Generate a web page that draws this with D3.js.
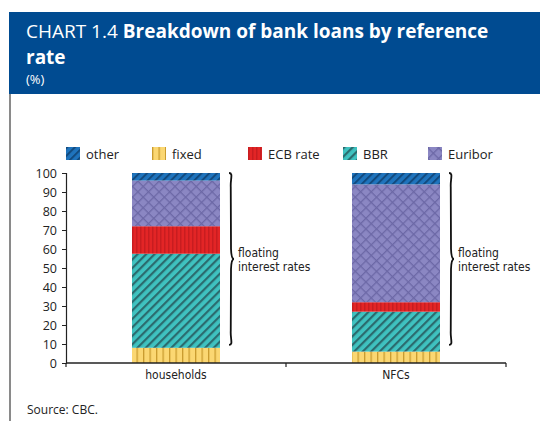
<!DOCTYPE html>
<html>
<head>
<meta charset="utf-8">
<script src="https://cdn.jsdelivr.net/npm/d3@7/dist/d3.min.js"></script>
<style>
  html, body { margin: 0; padding: 0; background: #fff; }
  svg { display: block; }
  .cond { font-family: "Liberation Sans Narrow", "Arial Narrow", "DejaVu Sans Condensed", sans-serif; }
</style>
</head>
<body>
<div id="chart"></div>
<script>
// Sectors on the x axis
const categories = ["households", "NFCs"];
// Reference-rate shares of each sector's loans (%), stacked bottom to top
const seriesNames = ["fixed", "BBR", "ECB rate", "Euribor", "other"];
const fixedVals   = [8, 6];
const bbrVals     = [49.5, 21];
const ecbVals     = [14.5, 5];
const euriborVals = [24, 62];
const otherVals   = [4, 6];
// Legend order as printed
const legendOrder = ["other", "fixed", "ECB rate", "BBR", "Euribor"];
const yTicks = [0, 10, 20, 30, 40, 50, 60, 70, 80, 90, 100];
// Span of the floating-rate brace (%)
const braceRange = [9.5, 100];

const W = 540, H = 421;
const svg = d3.select("#chart").append("svg").attr("width", W).attr("height", H);
const defs = svg.append("defs");

// Fill patterns
function stripePattern(id, bg, fg, size, width, angle) {
  const p = defs.append("pattern").attr("id", id).attr("patternUnits", "userSpaceOnUse")
    .attr("width", size).attr("height", size)
    .attr("patternTransform", `rotate(${angle})`);
  p.append("rect").attr("width", size).attr("height", size).attr("fill", bg);
  p.append("rect").attr("x", 0).attr("y", 0).attr("width", width).attr("height", size).attr("fill", fg);
}
stripePattern("p-other", "#1f74bd", "#124a7e", 5.5, 2, 45);
stripePattern("p-bbr", "#3fc2c0", "#2b6b6e", 6, 2.2, 45);
stripePattern("p-fixed", "#fbd772", "#c99b2e", 6.5, 1.3, 0);
stripePattern("p-ecb", "#e32526", "#c81d20", 4, 1.5, 0);
(function () {
  const s = 7.5;
  const p = defs.append("pattern").attr("id", "p-euribor").attr("patternUnits", "userSpaceOnUse")
    .attr("width", s).attr("height", s).attr("patternTransform", "rotate(45)");
  p.append("rect").attr("width", s).attr("height", s).attr("fill", "#8b87c3");
  p.append("rect").attr("x", 0).attr("y", 0).attr("width", 1.3).attr("height", s).attr("fill", "#6c68a6");
  p.append("rect").attr("x", 0).attr("y", 0).attr("width", s).attr("height", 1.3).attr("fill", "#6c68a6");
})();
const fillOf = {
  "fixed": "url(#p-fixed)", "BBR": "url(#p-bbr)", "ECB rate": "url(#p-ecb)",
  "Euribor": "url(#p-euribor)", "other": "url(#p-other)"
};

// Header band with the title block
svg.append("rect").attr("x", 9).attr("y", 12).attr("width", W - 9).attr("height", 82).attr("fill", "#004b91");
const titleFont = "'Open Sans', sans-serif";
const title = svg.append("text").attr("x", 26).attr("y", 38).attr("fill", "#fff")
  .style("font-family", titleFont).style("font-size", "19px");
title.append("tspan").text("CHART 1.4 ");
title.append("tspan").attr("font-weight", "bold").text("Breakdown of bank loans by reference");
svg.append("text").attr("x", 26).attr("y", 64).attr("fill", "#fff")
  .style("font-family", titleFont).style("font-size", "19px").attr("font-weight", "bold").text("rate");
svg.append("text").attr("x", 26).attr("y", 84).attr("fill", "#fff")
  .style("font-family", titleFont).style("font-size", "13px").text("(%)");

// Left frame rule
svg.append("line").attr("x1", 10).attr("x2", 10).attr("y1", 94).attr("y2", H)
  .attr("stroke", "#8a8a8a").attr("stroke-width", 2);

// Scales
const x = d3.scaleBand().domain(categories).range([66, 506]).paddingInner(0).paddingOuter(0);
const y = d3.scaleLinear().domain([0, 100]).range([363, 173]);
const barW = 88;

// Stacked data
const rows = categories.map((c, i) => ({
  cat: c, "fixed": fixedVals[i], "BBR": bbrVals[i], "ECB rate": ecbVals[i],
  "Euribor": euriborVals[i], "other": otherVals[i]
}));
const stacked = d3.stack().keys(seriesNames)(rows);

svg.append("g").selectAll("g").data(stacked).join("g")
  .attr("fill", d => fillOf[d.key])
  .selectAll("rect").data(d => d).join("rect")
  .attr("x", d => x(d.data.cat) + x.bandwidth() / 2 - barW / 2)
  .attr("width", barW)
  .attr("y", d => y(d[1]))
  .attr("height", d => y(d[0]) - y(d[1]));

// Y axis
const yAxis = svg.append("g").attr("transform", "translate(66,0)")
  .call(d3.axisLeft(y).tickValues(yTicks).tickSize(4).tickPadding(5));
yAxis.select(".domain").attr("stroke", "#222").attr("stroke-width", 1.2);
yAxis.selectAll(".tick line").attr("stroke", "#222");
yAxis.selectAll("text").style("font-family", "'Open Sans', sans-serif").style("font-size", "12.5px").attr("fill", "#222");

// X axis with ticks on band boundaries
const xAxisG = svg.append("g").attr("transform", "translate(0,363)");
xAxisG.append("line").attr("x1", 66).attr("x2", 506).attr("stroke", "#222").attr("stroke-width", 1.4);
const bounds = [x.range()[0]].concat(categories.map(c => x(c) + x.bandwidth()));
xAxisG.selectAll(".bt").data(bounds).join("line").attr("class", "bt")
  .attr("x1", d => d).attr("x2", d => d).attr("y1", 0).attr("y2", 4).attr("stroke", "#222").attr("stroke-width", 1.2);
xAxisG.selectAll(".xl").data(categories).join("text").attr("class", "xl cond")
  .attr("x", d => x(d) + x.bandwidth() / 2).attr("y", 16).attr("text-anchor", "middle")
  .style("font-size", "12px").attr("fill", "#222").text(d => d);

// Braces marking the floating-rate portion
function bracePath(x0, y0, y1, w) {
  const ym = (y0 + y1) / 2;
  return `M${x0},${y0} C${x0 + w * 0.9},${y0} ${x0 + w * 0.25},${y0 + 6} ${x0 + w * 0.35},${y0 + 14}
          L${x0 + w * 0.4},${ym - 10} C${x0 + w * 0.45},${ym - 3} ${x0 + w * 0.7},${ym} ${x0 + w},${ym}
          C${x0 + w * 0.7},${ym} ${x0 + w * 0.45},${ym + 3} ${x0 + w * 0.4},${ym + 10}
          L${x0 + w * 0.35},${y1 - 14} C${x0 + w * 0.25},${y1 - 6} ${x0 + w * 0.9},${y1} ${x0},${y1}`;
}
categories.forEach(c => {
  const bx = x(c) + x.bandwidth() / 2 + barW / 2 + 9;
  svg.append("path").attr("d", bracePath(bx, y(braceRange[1]), y(braceRange[0]), 5))
    .attr("fill", "none").attr("stroke", "#111").attr("stroke-width", 1.8);
  const t = svg.append("text").attr("class", "cond").attr("x", bx + 9).attr("y", 257)
    .style("font-size", "12px").attr("fill", "#222");
  t.append("tspan").attr("x", bx + 9).text("floating");
  t.append("tspan").attr("x", bx + 9).attr("dy", 14).text("interest rates");
});

// Legend
const legendX = { "other": 66, "fixed": 152, "ECB rate": 248, "BBR": 343, "Euribor": 428 };
const lg = svg.append("g").selectAll("g").data(legendOrder).join("g")
  .attr("transform", d => `translate(${legendX[d]},147)`);
lg.append("rect").attr("width", 14).attr("height", 13).attr("fill", d => fillOf[d]);
lg.append("text").attr("x", 20).attr("y", 11.5)
  .style("font-family", "'Open Sans', sans-serif").style("font-size", "13px").attr("fill", "#222").text(d => d);

// Source note
svg.append("text").attr("x", 27).attr("y", 414)
  .style("font-family", "'Open Sans', sans-serif").style("font-size", "12px").attr("fill", "#222").text("Source: CBC.");
</script>
</body>
</html>
